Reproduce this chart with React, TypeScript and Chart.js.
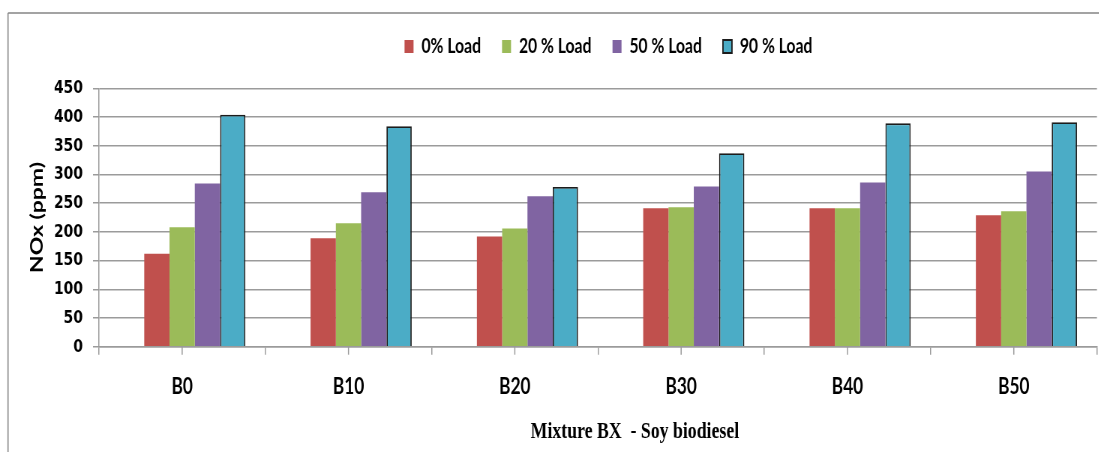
import { useEffect, useRef } from "react";
import { Chart, registerables } from "chart.js";

Chart.register(...registerables);

// Mixtures of soy biodiesel with diesel, NOx emissions per engine load
const categories = ["B0", "B10", "B20", "B30", "B40", "B50"];
const load0 = [162, 189, 192, 241, 241, 229];
const load20 = [208, 215, 206, 243, 241, 236];
const load50 = [284, 269, 262, 279, 286, 305];
const load90 = [404, 384, 278, 337, 389, 391];
const seriesNames = ["0% Load", "20 % Load", "50 % Load", "90 % Load"];
const yTickValues = [0, 50, 100, 150, 200, 250, 300, 350, 400, 450];
const xTitle = "Mixture BX  - Soy biodiesel";
const yTitle = "NOx (ppm)";

const PAGE_W = 1099;
const PAGE_H = 452;
// the whole drawing is rendered wide and compressed horizontally
const SQUEEZE = 0.75;
const CANVAS_W = PAGE_W / SQUEEZE;

const GRID = "#9b9b9b";
const COLORS = ["#C0504D", "#9BBB59", "#8064A2", "#4BACC6"];

const framePlugin = {
  id: "frame",
  beforeDraw(chart: any) {
    const { ctx, width, height } = chart;
    ctx.save();
    ctx.strokeStyle = "#a3a3a3";
    ctx.lineWidth = 2;
    ctx.beginPath();
    ctx.moveTo(10.7, 13);
    ctx.lineTo(width, 13);
    ctx.stroke();
    ctx.lineWidth = 1.6;
    ctx.strokeStyle = "#8a8a8a";
    ctx.beginPath();
    ctx.moveTo(10.7, 13);
    ctx.lineTo(10.7, height);
    ctx.stroke();
    ctx.restore();
  },
};

// shifts the legend row a little to the right of the plot centre
const legendShift = {
  id: "legendShift",
  afterLayout(chart: any) {
    const lg = chart.legend;
    if (lg) {
      lg.left += 14;
      lg.right += 14;
    }
  },
};

// extra tick marks under each category centre, plus the x-axis caption
const xAxisExtras = {
  id: "xAxisExtras",
  afterDraw(chart: any) {
    const { ctx, chartArea } = chart;
    const xs = chart.scales.x;
    ctx.save();
    ctx.strokeStyle = GRID;
    ctx.lineWidth = 1.5;
    categories.forEach((_, i) => {
      const px = xs.getPixelForValue(i);
      ctx.beginPath();
      ctx.moveTo(px, xs.top);
      ctx.lineTo(px, xs.top + 8);
      ctx.stroke();
    });
    ctx.fillStyle = "#000";
    ctx.font = 'bold 23.7px "Liberation Serif", "Times New Roman", serif';
    ctx.textAlign = "center";
    ctx.textBaseline = "alphabetic";
    ctx.fillText(
      xTitle,
      chartArea.left + chartArea.width * 0.537,
      chartArea.bottom + 91.6
    );
    ctx.restore();
  },
};

export default function App() {
  const ref = useRef<HTMLCanvasElement>(null);

  useEffect(() => {
    const values = [load0, load20, load50, load90];
    const chart = new Chart(ref.current!, {
      type: "bar",
      data: {
        labels: categories,
        datasets: [
          // empty first series keeps its slot in every group
          { label: "", data: [], backgroundColor: "transparent", xAxisID: "x" },
          ...values.map((d, i) => ({
            label: seriesNames[i],
            data: d,
            xAxisID: "x",
            backgroundColor: COLORS[i],
            borderColor: i === 3 ? "#1c1c1c" : COLORS[i],
            borderWidth: i === 3 ? 1.8 : 0,
          })),
        ],
      },
      options: {
        animation: false,
        responsive: true,
        maintainAspectRatio: false,
        devicePixelRatio: 1,
        events: [],
        layout: { padding: { top: 8, left: 11, right: 2.7, bottom: 0 } },
        datasets: {
          bar: { categoryPercentage: 0.76, barPercentage: 1 },
        },
        plugins: {
          tooltip: { enabled: false },
          title: { display: false },
          legend: {
            display: true,
            position: "top",
            fullSize: false,
            labels: {
              filter: (item: any) => item.text !== "",
              color: "#000",
              font: { family: "Lato", weight: "bold", size: 21 },
              boxWidth: 12,
              boxHeight: 13,
              padding: 28,
            },
          },
        },
        scales: {
          x: {
            type: "category",
            offset: true,
            grid: {
              offset: true,
              drawOnChartArea: false,
              drawTicks: true,
              tickLength: 8,
              color: GRID,
              lineWidth: 1.5,
            },
            border: { color: GRID, width: 1.5 },
            ticks: {
              color: "#000",
              font: { family: "Lato", weight: "bold", size: 23 },
              padding: 18.5,
              maxRotation: 0,
              autoSkip: false,
            },
            afterFit: (s: any) => {
              s.height = 105.3;
            },
          },
          gap: {
            type: "category",
            position: "top",
            display: true,
            grid: { display: false, drawTicks: false },
            border: { display: false },
            ticks: { display: false },
            afterFit: (s: any) => {
              s.height = 21.3;
            },
          },
          y: {
            type: "linear",
            min: 0,
            max: 450,
            afterBuildTicks: (s: any) => {
              s.ticks = yTickValues.map((v) => ({ value: v }));
            },
            grid: { color: GRID, lineWidth: 1.5, tickLength: 8 },
            border: { color: GRID, width: 1.5 },
            ticks: {
              color: "#000",
              font: { family: "DejaVu Sans", weight: "bold", size: 18.5 },
              padding: 13.5,
            },
            title: {
              display: true,
              text: yTitle,
              color: "#000",
              font: { family: "Lato", weight: "bold", size: 23 },
              padding: { top: 24.5, bottom: 0 },
            },
            afterFit: (s: any) => {
              s.width = 121;
            },
          },
        },
      },
      plugins: [framePlugin, legendShift, xAxisExtras],
    } as any);
    return () => chart.destroy();
  }, []);

  return (
    <div
      style={{
        position: "absolute",
        left: 0,
        top: 0,
        width: PAGE_W,
        height: PAGE_H,
        overflow: "hidden",
        background: "#fff",
      }}
    >
      <div
        style={{
          width: CANVAS_W,
          height: PAGE_H,
          transform: `scaleX(${SQUEEZE})`,
          transformOrigin: "0 0",
        }}
      >
        <canvas ref={ref} />
      </div>
    </div>
  );
}
